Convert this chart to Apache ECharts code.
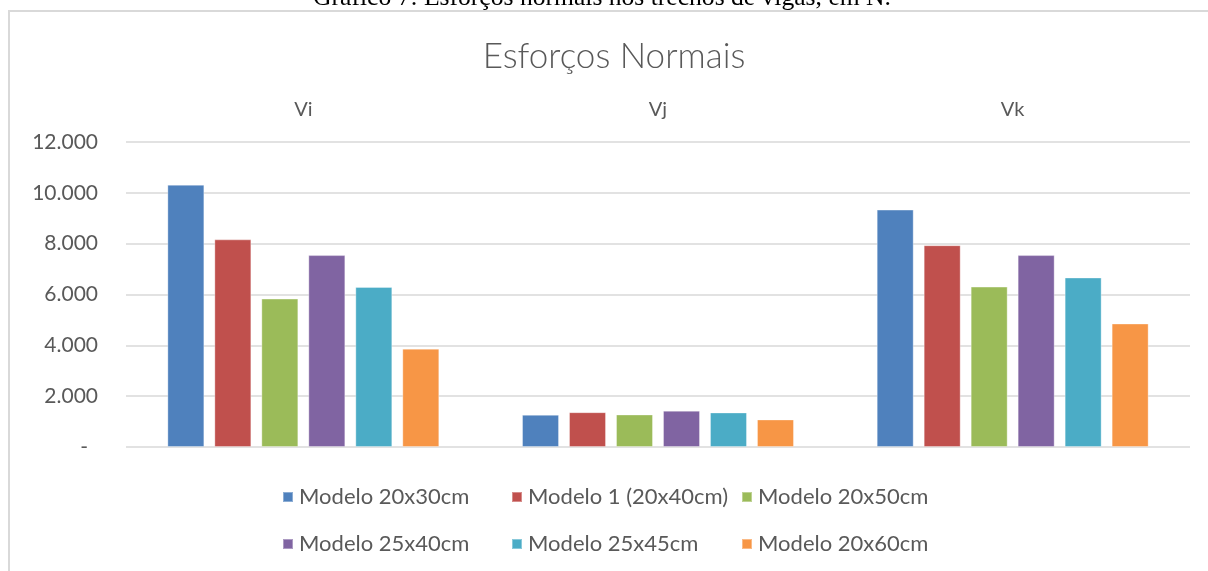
<!DOCTYPE html>
<html>
<head>
<meta charset="utf-8">
<style>
  html, body { margin: 0; padding: 0; background: #ffffff; }
  #chart { width: 1208px; height: 571px; }
</style>
<script src="https://cdn.jsdelivr.net/npm/echarts@6/dist/echarts.min.js"></script>
</head>
<body>
<div id="chart"></div>
<script>
// Normal forces (N) in the beam segments for each section model
const categories = ['Vi', 'Vj', 'Vk'];
const seriesNames = [
  'Modelo 20x30cm',
  'Modelo 1 (20x40cm)',
  'Modelo 20x50cm',
  'Modelo 25x40cm',
  'Modelo 25x45cm',
  'Modelo 20x60cm'
];
const modelo20x30 = [10320, 1270, 9340];
const modelo1_20x40 = [8170, 1370, 7940];
const modelo20x50 = [5840, 1280, 6310];
const modelo25x40 = [7550, 1430, 7550];
const modelo25x45 = [6300, 1360, 6670];
const modelo20x60 = [3870, 1085, 4860];
const yTicks = [0, 2000, 4000, 6000, 8000, 10000, 12000];

const seriesValues = [modelo20x30, modelo1_20x40, modelo20x50, modelo25x40, modelo25x45, modelo20x60];
const colors = ['#4f81bd', '#c0504d', '#9bbb59', '#8064a2', '#4bacc6', '#f79646'];

const FONT = 'Lato';
const TEXT = '#595959';

function fmt(v) {
  if (v === 0) return '{z|-}';
  return String(v).replace(/\B(?=(\d{3})+(?!\d))/g, '.');
}

// legend laid out as a 3-column grid, one vertical legend per column
const legendCols = [[0, 3], [1, 4], [2, 5]];
const legendLeft = [282, 511, 741];
const legends = legendCols.map((idx, c) => ({
  orient: 'vertical',
  left: legendLeft[c],
  top: 485,
  itemWidth: 10,
  itemHeight: 10,
  itemGap: 23,
  icon: 'rect',
  padding: 0,
  data: idx.map(i => seriesNames[i]),
  textStyle: { fontFamily: FONT, fontSize: 22, color: TEXT, lineHeight: 24, padding: [0, 0, 0, 1] }
}));

const chart = echarts.init(document.getElementById('chart'), null, { renderer: 'canvas' });
chart.setOption({
  animation: false,
  backgroundColor: '#ffffff',
  color: colors,
  title: {
    text: 'Esforços Normais',
    left: 609,
    textAlign: 'center',
    top: 34,
    textStyle: { fontFamily: FONT, fontWeight: 300, fontSize: 35, color: TEXT }
  },
  graphic: [
    {
      type: 'text',
      x: 602,
      y: 11,
      style: {
        text: 'Gráfico 7: Esforços normais nos trechos de vigas, em N.',
        font: '25.6px "Liberation Serif"',
        fill: '#000000',
        textAlign: 'center',
        textVerticalAlign: 'bottom'
      }
    },
    {
      type: 'rect',
      shape: { x: 9, y: 11, width: 1240, height: 600 },
      style: { fill: 'none', stroke: '#d9d9d9', lineWidth: 2 },
      silent: true
    }
  ],
  legend: legends,
  grid: { left: 126, right: 18, top: 142, bottom: 124, containLabel: false },
  xAxis: {
    type: 'category',
    data: categories,
    position: 'top',
    axisLine: { show: false },
    axisTick: { show: false },
    axisLabel: { fontFamily: FONT, fontSize: 20, color: TEXT, margin: 22 }
  },
  yAxis: {
    type: 'value',
    min: yTicks[0],
    max: yTicks[yTicks.length - 1],
    interval: 2000,
    axisLine: { show: false },
    axisTick: { show: false },
    splitLine: { lineStyle: { color: '#d9d9d9', width: 1.5 } },
    axisLabel: {
      fontFamily: FONT, fontSize: 21, color: TEXT, margin: 28,
      formatter: fmt,
      rich: { z: { fontFamily: FONT, fontSize: 21, color: TEXT, padding: [0, 10, 0, 0] } }
    }
  },
  series: seriesValues.map((vals, i) => ({
    name: seriesNames[i],
    type: 'bar',
    data: vals,
    barWidth: 37,
    barGap: '27%',
    itemStyle: { color: colors[i], borderColor: 'rgba(255,255,255,0.35)', borderWidth: 1 }
  }))
});
</script>
</body>
</html>
